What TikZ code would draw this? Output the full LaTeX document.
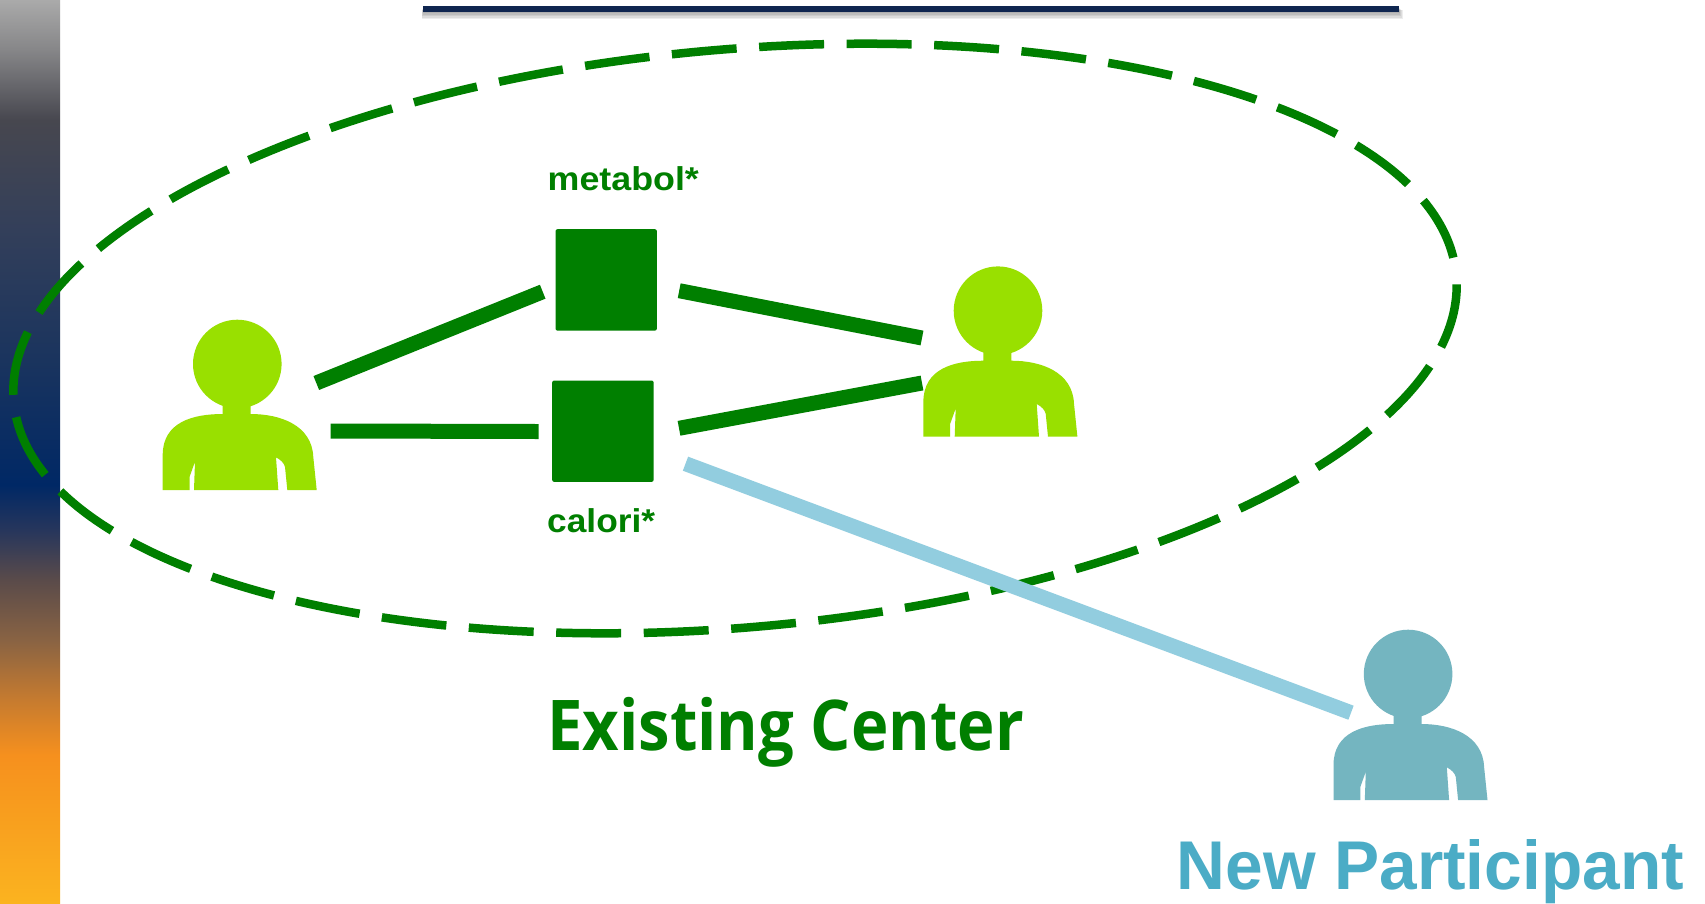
\documentclass[tikz,border=0pt]{standalone}
\usepackage{fontspec}
\setmainfont{Liberation Sans}
\newfontfamily\centerfont{Open Sans}
\definecolor{gdark}{HTML}{007F00}
\definecolor{glime}{HTML}{99E000}
\definecolor{tealp}{HTML}{74B5C0}
\definecolor{teallab}{HTML}{4BACC6}
\definecolor{blueline}{HTML}{92CDDF}
\definecolor{navyline}{HTML}{0F2650}
\definecolor{bandA}{RGB}{251,179,31}
\definecolor{bandB}{RGB}{246,144,30}
\definecolor{bandC}{RGB}{198,123,47}
\definecolor{bandD}{RGB}{137,99,67}
\definecolor{bandE}{RGB}{90,75,74}
\definecolor{bandF}{RGB}{39,54,92}
\definecolor{bandG}{RGB}{0,40,101}
\definecolor{bandH}{RGB}{26,52,94}
\definecolor{bandI}{RGB}{51,63,90}
\definecolor{bandJ}{RGB}{71,71,79}
\definecolor{bandK}{RGB}{134,134,136}
\definecolor{bandL}{RGB}{170,170,170}
\pgfdeclareverticalshading{bandshade}{100bp}{
  color(0bp)=(bandA);
  color(25bp)=(bandA);
  color(33.2bp)=(bandB);
  color(36.24bp)=(bandC);
  color(39.57bp)=(bandD);
  color(42.89bp)=(bandE);
  color(45.65bp)=(bandF);
  color(48.15bp)=(bandG);
  color(55.07bp)=(bandH);
  color(62.27bp)=(bandI);
  color(68.36bp)=(bandJ);
  color(72.23bp)=(bandK);
  color(75bp)=(bandL);
  color(100bp)=(bandL)}
\tikzset{
  x=1pt,y=-1pt,
  person/.pic={
    \fill[#1] (97.3,64) circle [x radius=44.3,y radius=44.3];
    \fill[#1] (82.7,114) .. controls (53,114) and (22.7,122) .. (22.7,155)
      -- (22.7,190) -- (49.5,190) -- (49.5,177) -- (55,161.7) -- (54,190)
      -- (138.3,190) -- (136,157.3) .. controls (141,160) and (144,163) .. (145,167)
      -- (147.3,190) -- (176.7,190) -- (173.3,157)
      .. controls (172,125) and (140,114) .. (110.7,114)
      -- (110.7,100) -- (82.7,100) -- cycle;
  },
  sqbox/.style={draw=none,fill=gdark,rounded corners=2pt,minimum width=101.4pt,minimum height=101.4pt,inner sep=0pt,anchor=north west},
  link/.style={gdark,line width=15pt},
  bluelink/.style={blueline,line width=15pt},
  ring/.style={gdark,line width=8.5pt,dash pattern=on 65pt off 22.55pt,dash phase=78.55pt},
  lab/.style={inner sep=0pt,anchor=base west},
}
\begin{document}
\begin{tikzpicture}
\useasboundingbox (0,0) rectangle (1705,903);
\fill[white] (0,0) rectangle (1705,903);
% left band
\shade[shading=bandshade] (0,0) rectangle (60,903);
% top rule with shadow
\foreach \d in {7,5.5,4,2.5,1}{
  \fill[black,opacity=.07] (423-\d*.2,8+\d*.3) rectangle (1399+\d*.5,12+\d);
}
\fill[navyline] (423,6) rectangle (1399,11.7);
% dashed ring
\draw[ring,rotate around={5:(735,338.5)}] (735,338.5) ellipse [x radius=724,y radius=289];
% squares
\node[sqbox] (metabolbox) at (555.3,229) {};
\node[sqbox] (caloribox) at (552,380.3) {};
% people
\pic (leftperson) at (140,300) {person=glime};
\pic (rightperson) at (900.7,246.7) {person=glime};
\pic (newperson) at (1310.8,610) {person=tealp};
% connector ends
\coordinate (a1) at (316.3,383);   \coordinate (a2) at (542.7,291.7);
\coordinate (b1) at (330.7,431);   \coordinate (b2) at (538.7,431.5);
\coordinate (c1) at (679.2,290.7); \coordinate (c2) at (922,338);
\coordinate (d1) at (679,428.3);   \coordinate (d2) at (922,383);
\coordinate (e1) at (685.5,463.7); \coordinate (e2) at (1351,712.7);
\draw[link] (a1) -- (a2);
\draw[link] (b1) -- (b2);
\draw[link] (c1) -- (c2);
\draw[link] (d1) -- (d2);
\draw[bluelink] (e1) -- (e2);
% labels
\node[lab,text=gdark] (tm) at (547.5,190) {\fontsize{33}{33}\selectfont\bfseries\scalebox{1.085}[1]{metabol*}};
\node[lab,text=gdark] (tc) at (547,532.7) {\fontsize{33}{33}\selectfont\bfseries\scalebox{1.07}[1]{calori*}};
\node[lab,text=gdark] (te) at (547,750) {\fontsize{70}{70}\selectfont\centerfont\bfseries\scalebox{.905}[1]{Existing Center}};
\node[lab,text=teallab] (tn) at (1176.5,889) {\fontsize{69}{69}\selectfont\bfseries\scalebox{.98}[1]{New Participant}};
\end{tikzpicture}
\end{document}
